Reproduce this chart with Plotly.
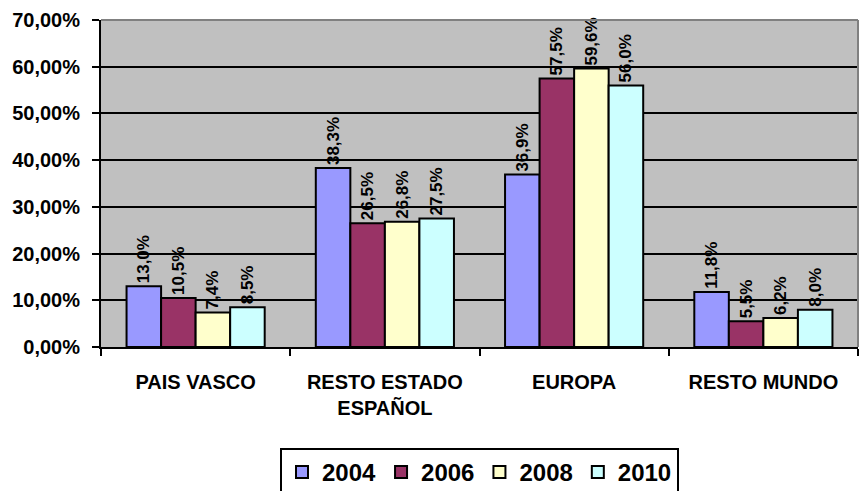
import plotly.graph_objects as go

# Regions and yearly shares (percent)
regions = ["PAIS VASCO", "RESTO ESTADO<br>ESPAÑOL", "EUROPA", "RESTO MUNDO"]
years = ["2004", "2006", "2008", "2010"]
share_2004 = [13.0, 38.3, 36.9, 11.8]
share_2006 = [10.5, 26.5, 57.5, 5.5]
share_2008 = [7.4, 26.8, 59.6, 6.2]
share_2010 = [8.5, 27.5, 56.0, 8.0]
series = [share_2004, share_2006, share_2008, share_2010]
colors = ["#9999FF", "#993366", "#FFFFCC", "#CCFFFF"]

FONT = "Liberation Sans, Arial, sans-serif"

fig = go.Figure()
for year, vals, col in zip(years, series, colors):
    fig.add_trace(go.Bar(
        name=year,
        x=regions,
        y=[v / 100 for v in vals],
        marker=dict(color=col, line=dict(color="black", width=2)),
        text=[f"{v:.1f}%".replace(".", ",") for v in vals],
        textposition="outside",
        textangle=-90,
        constraintext="none",
        textfont=dict(family=FONT, size=17, color="black", weight="bold"),
        cliponaxis=False,
    ))

fig.update_layout(
    width=859, height=491,
    margin=dict(l=101, r=1, t=20, b=144, autoexpand=False),
    paper_bgcolor="white",
    plot_bgcolor="#C0C0C0",
    barmode="group",
    bargap=0.27,
    bargroupgap=0,
    separators=",.",
    font=dict(family=FONT, color="black"),
    showlegend=True,
    legend=dict(
        orientation="h",
        x=0.5, xanchor="center",
        yref="container", y=1 - 448 / 491, yanchor="top",
        bordercolor="black", borderwidth=2,
        font=dict(family=FONT, size=24, color="black", weight="bold"),
        itemwidth=30,
        tracegroupgap=0,
    ),
)

fig.update_xaxes(
    showline=True, linecolor="black", linewidth=2,
    ticks="outside", tickson="boundaries", ticklen=7, tickwidth=2, tickcolor="black",
    tickfont=dict(family=FONT, size=20, color="black", weight="bold"),
    ticklabelstandoff=16,
    showgrid=False,
    automargin=False,
)
fig.update_yaxes(
    range=[0, 0.7], dtick=0.1, tickformat=".2%",
    showline=True, linecolor="black", linewidth=2,
    ticks="outside", ticklen=7, tickwidth=2, tickcolor="black",
    tickfont=dict(family=FONT, size=20, color="black", weight="bold"),
    ticklabelstandoff=8,
    showgrid=True, gridcolor="black", gridwidth=1.5,
    zeroline=False,
    automargin=False,
)

# Gray frame on top and right of the plotting area
fig.add_shape(type="line", xref="paper", yref="paper", x0=0, x1=1, y0=1, y1=1,
              line=dict(color="#808080", width=2))
fig.add_shape(type="line", xref="paper", yref="paper", x0=1, x1=1, y0=0, y1=1,
              line=dict(color="#808080", width=2))

fig.write_html("out.html")
